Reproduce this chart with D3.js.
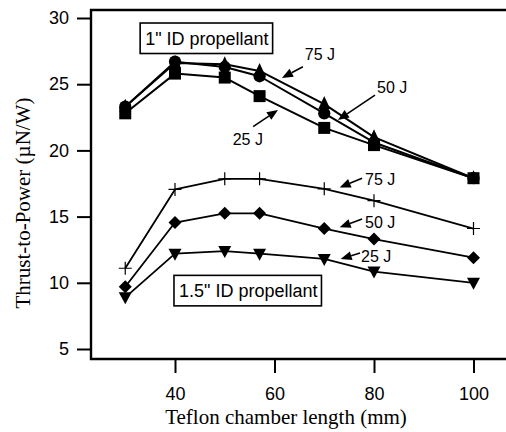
<!DOCTYPE html>
<html>
<head>
<meta charset="utf-8">
<script src="https://cdn.jsdelivr.net/npm/d3@7"></script>
<style>
  html, body { margin: 0; padding: 0; background: #fff; }
  svg { display: block; }
</style>
</head>
<body>
<svg id="chart" width="506" height="432"></svg>
<script>
// ---------------- data ----------------
const lengths = [30, 40, 50, 57, 70, 80, 100];           // Teflon chamber length (mm)

// 1" ID propellant
const id1_75J = [23.3, 26.6, 26.5, 26.0, 23.5, 21.0, 17.9];
const id1_50J = [23.3, 26.7, 26.3, 25.6, 22.8, 20.6, 17.9];
const id1_25J = [22.8, 25.8, 25.5, 24.1, 21.7, 20.4, 17.9];

// 1.5" ID propellant
const id15_75J = [11.1, 17.05, 17.85, 17.85, 17.1, 16.2, 14.1];
const id15_50J = [9.7, 14.55, 15.25, 15.25, 14.1, 13.3, 11.9];
const id15_25J = [8.9, 12.2, 12.4, 12.2, 11.8, 10.85, 10.0];

const xTicks = [40, 60, 80, 100];
const yTicks = [5, 10, 15, 20, 25, 30];

const xTitle = "Teflon chamber length (mm)";
const yTitle = "Thrust-to-Power (\u00B5N/W)";

const boxLabels = [
  { text: "1\" ID propellant",   x: 34.0, y: 27.96 },
  { text: "1.5\" ID propellant", x: 40.8, y: 8.9 }
];

// energy labels with arrows (data coordinates)
const energyLabels = [
  { text: "75 J", tx: 66.1, ty: 26.83, ax0: 65.7, ay0: 26.32, ax1: 61.5, ay1: 25.47 },
  { text: "50 J", tx: 80.6, ty: 24.33, ax0: 80.2, ay0: 24.18, ax1: 72.75, ay1: 22.3 },
  { text: "25 J", tx: 51.6, ty: 20.4,  ax0: 55.7, ay0: 21.8,  ax1: 60.7, ay1: 23.05 },
  { text: "75 J", tx: 78.2, ty: 17.39, ax0: 77.6, ay0: 17.9,  ax1: 73.1, ay1: 17.2 },
  { text: "50 J", tx: 78.2, ty: 14.14, ax0: 77.6, ay0: 14.82, ax1: 73.1, ay1: 14.2 },
  { text: "25 J", tx: 77.4, ty: 11.57, ax0: 77.2, ay0: 12.25, ax1: 73.3, ay1: 11.8 }
];

// ---------------- layout ----------------
const svg = d3.select("#chart");
const frame = { left: 91, top: 10, right: 506, bottom: 359 };

const x = d3.scaleLinear().domain([40, 100]).range([175, 473.5]);
const y = d3.scaleLinear().domain([5, 30]).range([349, 18]);

const sans = "'Liberation Sans', Arial, Helvetica, sans-serif";
const serif = "'Liberation Serif', 'Times New Roman', serif";

// frame
const fr = svg.append("g").attr("stroke", "#000").attr("stroke-width", 2.4).attr("fill", "none");
fr.append("path").attr("d",
  `M${frame.right},${frame.top}H${frame.left}V${frame.bottom}H${frame.right}`);

// y axis
const yAxis = svg.append("g")
  .attr("transform", `translate(${frame.left - 1},0)`)
  .call(d3.axisLeft(y).tickValues(yTicks).tickSize(13).tickPadding(8).tickFormat(d3.format("d")));
yAxis.select(".domain").remove();
yAxis.selectAll(".tick line").attr("stroke", "#000").attr("stroke-width", 2);
yAxis.selectAll(".tick text").attr("font-family", sans).attr("font-size", 18).attr("fill", "#000");

// x axis
const xAxis = svg.append("g")
  .attr("transform", `translate(0,${frame.bottom})`)
  .call(d3.axisBottom(x).tickValues(xTicks).tickSize(14).tickPadding(14).tickFormat(d3.format("d")));
xAxis.select(".domain").remove();
xAxis.selectAll(".tick line").attr("stroke", "#000").attr("stroke-width", 2);
xAxis.selectAll(".tick text").attr("font-family", sans).attr("font-size", 18).attr("fill", "#000");

// axis titles
svg.append("text")
  .attr("x", 286).attr("y", 424)
  .attr("text-anchor", "middle")
  .attr("font-family", serif).attr("font-size", 21)
  .text(xTitle);
svg.append("text")
  .attr("transform", "translate(30,203) rotate(-90)")
  .attr("text-anchor", "middle")
  .attr("font-family", serif).attr("font-size", 21)
  .text(yTitle);

// ---------------- series ----------------
const line = d3.line().x(d => x(d[0])).y(d => y(d[1]));
const pairs = vals => lengths.map((l, i) => [l, vals[i]]);

const sq = d3.symbol().type(d3.symbolSquare).size(144)();
const circ = d3.symbol().type(d3.symbolCircle).size(118)();
const triUp = "M0,-8L6,5L-6,5Z";
const triDown = "M0,7L6.5,-5L-6.5,-5Z";
const diamond = "M0,-6.5L6.5,0L0,6.5L-6.5,0Z";
const plus = "M-6.5,0H6.5M0,-6.5V6.5";

const series = [
  { vals: id1_25J,  shape: sq,      fill: "#000", lw: 2 },
  { vals: id1_75J,  shape: triUp,   fill: "#000", lw: 2 },
  { vals: id1_50J,  shape: circ,    fill: "#000", lw: 2 },
  { vals: id15_75J, shape: plus,    fill: "none", lw: 1.8, plus: true },
  { vals: id15_50J, shape: diamond, fill: "#000", lw: 1.8 },
  { vals: id15_25J, shape: triDown, fill: "#000", lw: 1.8 }
];

series.forEach(s => {
  svg.append("path")
    .datum(pairs(s.vals))
    .attr("fill", "none").attr("stroke", "#000")
    .attr("stroke-width", s.lw).attr("stroke-linejoin", "round")
    .attr("d", line);
});
series.forEach(s => {
  svg.append("g").selectAll("path")
    .data(pairs(s.vals))
    .join("path")
    .attr("transform", d => `translate(${x(d[0])},${y(d[1])})`)
    .attr("d", s.shape)
    .attr("fill", s.fill)
    .attr("stroke", s.plus ? "#000" : "none")
    .attr("stroke-width", s.plus ? 1.2 : 0);
});

// ---------------- annotations ----------------
boxLabels.forEach(b => {
  const g = svg.append("g");
  const t = g.append("text")
    .attr("x", x(b.x)).attr("y", y(b.y))
    .attr("font-family", sans).attr("font-size", 18)
    .text(b.text);
  const bb = t.node().getBBox();
  g.insert("rect", "text")
    .attr("x", bb.x - 5).attr("y", y(b.y) - 22)
    .attr("width", bb.width + 9).attr("height", 30.5)
    .attr("fill", "#fff").attr("stroke", "#000").attr("stroke-width", 1.6);
});

energyLabels.forEach(a => {
  svg.append("text")
    .attr("x", x(a.tx)).attr("y", y(a.ty))
    .attr("font-family", sans).attr("font-size", 16)
    .text(a.text);
  const x0 = x(a.ax0), y0 = y(a.ay0), x1 = x(a.ax1), y1 = y(a.ay1);
  const ang = Math.atan2(y1 - y0, x1 - x0);
  const hl = 11, hw = 4.5;
  const bx = x1 - hl * Math.cos(ang), by = y1 - hl * Math.sin(ang);
  svg.append("line")
    .attr("x1", x0).attr("y1", y0).attr("x2", bx).attr("y2", by)
    .attr("stroke", "#000").attr("stroke-width", 1.6);
  const px = -Math.sin(ang), py = Math.cos(ang);
  svg.append("path")
    .attr("d", `M${x1},${y1}L${bx + px * hw},${by + py * hw}L${bx - px * hw},${by - py * hw}Z`)
    .attr("fill", "#000");
});
</script>
</body>
</html>
